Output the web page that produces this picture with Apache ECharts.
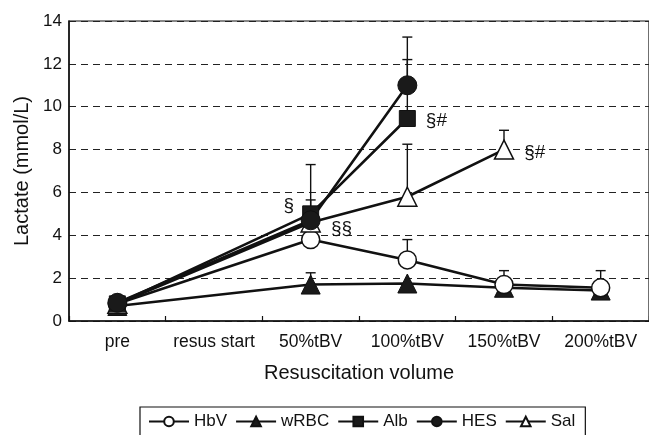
<!DOCTYPE html>
<html>
<head>
<meta charset="utf-8">
<script src="https://cdn.jsdelivr.net/npm/echarts@6/dist/echarts.min.js"></script>
<style>
  html, body { margin: 0; padding: 0; background: #fff; }
  #chart { width: 649px; height: 435px; }
</style>
</head>
<body>
<div id="chart"></div>
<script>
// Lactate during resuscitation, mean with upward SD bars
const categories = ['pre', 'resus start', '50%tBV', '100%tBV', '150%tBV', '200%tBV'];

const hbvMean  = [0.8, null, 3.8, 2.85, 1.7, 1.55];
const hbvSd    = [0, null, 0, 0.95, 0.65, 0.8];
const wrbcMean = [0.7, null, 1.7, 1.75, 1.55, 1.42];
const wrbcSd   = [0, null, 0.55, 0, 0, 0];
const albMean  = [0.8, null, 5.0, 9.45, null, null];
const albSd    = [0, null, 2.3, 2.75, null, null];
const hesMean  = [0.85, null, 4.7, 11.0, null, null];
const hesSd    = [0, null, 0.95, 2.25, null, null];
const salMean  = [0.8, null, 4.6, 5.8, 8.0, null];
const salSd    = [0, null, 0, 2.45, 0.9, null];

// significance marks placed beside points
const albNotes = ['', '', '§', '§#', '', ''];
const salNotes = ['', '', '§§', '', '§#', ''];

const yTicks = [0, 2, 4, 6, 8, 10, 12, 14];

const INK = '#111';
const FONT = 'Liberation Sans, Arial, sans-serif';

// label placement per annotated point: [position, dx, dy]
const notePlacement = {
  'Alb-2': ['left', 0, -8],
  'Alb-3': ['right', 2, 2],
  'Sal-2': ['right', 2, 6],
  'Sal-4': ['right', 2, 3]
};

function withNotes(name, values, notes) {
  return values.map((v, i) => {
    if (!notes[i]) return v;
    const p = notePlacement[name + '-' + i] || ['right', 0, 0];
    return {
      value: v,
      label: { show: true, formatter: notes[i], position: p[0], offset: [p[1], p[2]] }
    };
  });
}

function errorSeries(name, mean, sd) {
  const data = [];
  mean.forEach((m, i) => {
    if (m != null && sd[i]) data.push([i, m, m + sd[i]]);
  });
  return {
    type: 'custom',
    name: name + '-err',
    z: 1,
    silent: true,
    data: data,
    renderItem: function (params, api) {
      const lo = api.coord([api.value(0), api.value(1)]);
      const hi = api.coord([api.value(0), api.value(2)]);
      const half = 5;
      const st = { stroke: INK, lineWidth: 1.4 };
      return {
        type: 'group',
        children: [
          { type: 'line', shape: { x1: lo[0], y1: lo[1], x2: hi[0], y2: hi[1] }, style: st },
          { type: 'line', shape: { x1: hi[0] - half, y1: hi[1], x2: hi[0] + half, y2: hi[1] }, style: st }
        ]
      };
    }
  };
}

function lineSeries(name, data, symbol, size, open) {
  return {
    type: 'line',
    name: name,
    data: data,
    z: 3,
    connectNulls: true,
    symbol: symbol,
    symbolSize: size,
    showAllSymbol: true,
    lineStyle: { color: INK, width: 2.6 },
    itemStyle: open
      ? { color: '#fff', borderColor: INK, borderWidth: 1.5 }
      : { color: '#1a1a1a', borderColor: INK, borderWidth: 1 },
    label: { color: INK, fontSize: 19, fontFamily: FONT, distance: 8 },
    emphasis: { disabled: true },
    animation: false
  };
}

const chart = echarts.init(document.getElementById('chart'));

chart.setOption({
  backgroundColor: '#fff',
  animation: false,
  textStyle: { fontFamily: FONT, color: INK },
  grid: {
    left: 69, top: 21, right: -8, bottom: 114,
    show: true, borderColor: INK, borderWidth: 1.2, backgroundColor: 'transparent'
  },
  legend: {
    left: 140,
    top: 407,
    width: 443,
    padding: [6, 10, 6, 8],
    borderColor: INK,
    borderWidth: 1.2,
    itemGap: 8,
    itemWidth: 40,
    itemHeight: 12,
    textStyle: { fontSize: 17, fontFamily: FONT, color: INK },
    data: ['HbV', 'wRBC', 'Alb', 'HES', 'Sal']
  },
  xAxis: {
    type: 'category',
    data: categories,
    boundaryGap: true,
    name: 'Resuscitation volume',
    nameLocation: 'middle',
    nameGap: 42,
    nameTextStyle: { fontSize: 20, fontFamily: FONT, color: INK },
    axisLine: { show: true, lineStyle: { color: INK, width: 1.5 } },
    axisTick: { show: true, interval: 0, inside: true, length: 5, lineStyle: { color: INK, width: 1.2 } },
    axisLabel: { interval: 0, fontSize: 17.5, fontFamily: FONT, color: INK, margin: 12 },
    splitLine: { show: false }
  },
  yAxis: {
    type: 'value',
    min: 0,
    max: 14,
    interval: 2,
    name: 'Lactate (mmol/L)',
    nameLocation: 'middle',
    nameGap: 36,
    nameTextStyle: { fontSize: 20, fontFamily: FONT, color: INK },
    axisLine: { show: true, lineStyle: { color: INK, width: 1.5 } },
    axisTick: { show: false },
    axisLabel: {
      fontSize: 17, fontFamily: FONT, color: INK, margin: 7,
      formatter: function (v) { return yTicks.indexOf(v) >= 0 ? String(v) : ''; }
    },
    splitLine: { show: true, lineStyle: { color: '#222', width: 1.2, type: [7, 5] } }
  },
  series: [
    errorSeries('HbV', hbvMean, hbvSd),
    errorSeries('wRBC', wrbcMean, wrbcSd),
    errorSeries('Alb', albMean, albSd),
    errorSeries('HES', hesMean, hesSd),
    errorSeries('Sal', salMean, salSd),
    lineSeries('wRBC', wrbcMean, 'triangle', 19, false),
    lineSeries('HbV', hbvMean, 'circle', 18, true),
    lineSeries('Sal', withNotes('Sal', salMean, salNotes), 'triangle', 19, true),
    lineSeries('Alb', withNotes('Alb', albMean, albNotes), 'rect', 16, false),
    lineSeries('HES', hesMean, 'circle', 19, false)
  ]
});
</script>
</body>
</html>
